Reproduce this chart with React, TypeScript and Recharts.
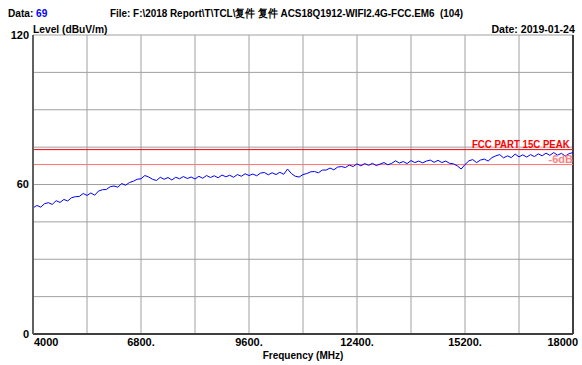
import React from 'react';
import {
  LineChart,
  Line,
  XAxis,
  YAxis,
  CartesianGrid,
  ReferenceLine,
} from 'recharts';

// sweep: 4000..18000 MHz, one reading every 100 MHz
const FREQ_START = 4000;
const FREQ_STEP = 100;
const LEVELS = [
  50.6, 51.6, 50.9, 52.3, 52.7, 52.0, 53.5, 52.8, 54.0, 53.4,
  54.7, 55.1, 55.2, 56.4, 55.6, 56.6, 55.7, 57.4, 57.9, 58.0,
  59.1, 59.4, 58.9, 60.4, 59.7, 60.8, 61.3, 62.1, 62.3, 63.6,
  63.0, 62.1, 61.6, 62.9, 62.1, 62.8, 61.8, 62.9, 62.3, 63.2,
  62.4, 63.0, 62.2, 63.3, 62.5, 63.6, 62.8, 63.5, 62.7, 63.8,
  63.1, 63.7, 62.9, 64.0, 63.3, 64.3, 63.6, 64.2, 63.5, 64.6,
  64.8, 63.9, 64.7, 64.0, 64.9, 64.1, 66.2, 64.4, 63.3, 63.0,
  64.0, 64.4, 65.1, 65.2, 64.7, 65.8, 65.8, 66.6, 65.9, 67.0,
  67.2, 66.8, 67.8, 67.2, 68.3, 67.5, 68.4, 67.7, 68.5, 67.6,
  68.2, 68.8, 67.9, 68.5, 69.5, 68.6, 69.2, 68.4, 69.6, 68.8,
  69.4, 68.7, 69.4, 69.8, 68.9, 69.7, 68.8, 69.4, 68.5, 68.3,
  67.5, 66.2, 68.0, 69.5, 70.0, 68.8, 69.8, 70.2, 69.4, 70.8,
  71.5, 72.0, 70.7, 71.5, 70.8, 72.2, 71.1, 71.9, 71.0, 72.0,
  71.2, 72.3, 71.5, 72.6, 71.7, 72.8, 71.8, 72.5, 71.4, 72.4,
  72.8,
];

const X_GRID = [4000, 5400, 6800, 8200, 9600, 11000, 12400, 13800, 15200, 16600, 18000];
const X_LABELED = [4000, 6800, 9600, 12400, 15200, 18000];
const Y_GRID = [0, 15, 30, 45, 60, 75, 90, 105, 120];
const Y_LABELED = [0, 60, 120];

const LIMIT_PEAK = 74;
const LIMIT_MARGIN = 68;

const data = LEVELS.map((level, i) => ({ freq: FREQ_START + i * FREQ_STEP, level }));

const FONT = '"Liberation Sans", Arial, sans-serif';

const XTick = (props: any) => {
  const { x, y, payload } = props;
  const v = payload.value;
  if (!X_LABELED.includes(v)) return <g />;
  const first = v === X_LABELED[0];
  const last = v === X_LABELED[X_LABELED.length - 1];
  const anchor = first ? 'start' : last ? 'end' : 'middle';
  const dx = first ? 1 : last ? 5 : 0;
  return (
    <text
      x={x + dx}
      y={y + 10}
      textAnchor={anchor}
      fontFamily={FONT}
      fontWeight="bold"
      fontSize={11}
      fill="#000"
    >
      {first || last ? String(v) : `${v}.`}
    </text>
  );
};

const txt: React.CSSProperties = {
  position: 'absolute',
  fontFamily: FONT,
  fontWeight: 'bold',
  fontSize: 11,
  whiteSpace: 'nowrap',
  lineHeight: '12px',
};

const squeeze = (k: number, origin: string): React.CSSProperties => ({
  transform: `scaleX(${k})`,
  transformOrigin: origin,
});

export default function App() {
  return (
    <div style={{ position: 'absolute', left: 0, top: 0, width: 582, height: 365, background: '#fff' }}>
      <LineChart width={582} height={365} data={data} margin={{ top: 35, right: 9, left: 0, bottom: 0 }}>
        <CartesianGrid stroke="#a0a0a0" strokeWidth={1} />
        <XAxis
          dataKey="freq"
          type="number"
          domain={[4000, 18000]}
          ticks={X_GRID}
          height={31}
          tickLine={false}
          tickSize={0}
          axisLine={{ stroke: '#404040', strokeWidth: 2 }}
          tick={<XTick />}
          interval={0}
        />
        <YAxis
          type="number"
          domain={[0, 120]}
          ticks={Y_GRID}
          width={33}
          tickLine={false}
          tickSize={0}
          tickMargin={4}
          interval={0}
          axisLine={{ stroke: '#606060', strokeWidth: 2 }}
          tickFormatter={(v: number) => (Y_LABELED.includes(v) ? String(v) : '')}
          tick={{ fontFamily: FONT, fontWeight: 'bold', fontSize: 11, fill: '#000' }}
        />
        <ReferenceLine x={18000} stroke="#404040" strokeWidth={2} />
        <ReferenceLine y={LIMIT_PEAK} stroke="#ff0000" strokeWidth={1} />
        <ReferenceLine y={LIMIT_MARGIN} stroke="#ff7070" strokeWidth={1} />
        <Line
          type="linear"
          dataKey="level"
          stroke="#0000ff"
          strokeWidth={1}
          dot={false}
          isAnimationActive={false}
        />
      </LineChart>

      <span style={{ ...txt, left: 8, top: 7, ...squeeze(0.92, 'left') }}>
        Data: <span style={{ color: '#0000ff' }}>69</span>
      </span>
      <span style={{ ...txt, left: 110, top: 7, ...squeeze(0.9, 'left') }}>
        File: F:\2018 Report\T\TCL\复件 复件 ACS18Q1912-WIFI2.4G-FCC.EM6&nbsp;&nbsp;(104)
      </span>
      <span style={{ ...txt, left: 33, top: 23, ...squeeze(0.93, 'left') }}>Level (dBuV/m)</span>
      <span style={{ ...txt, right: 7, top: 23, ...squeeze(0.96, 'right') }}>Date: 2019-01-24</span>
      <span style={{ ...txt, right: 12, top: 138, color: '#ff0000', ...squeeze(0.875, 'right') }}>
        FCC PART 15C PEAK
      </span>
      <span style={{ ...txt, right: 9, top: 153, color: '#ff8080' }}>-6dB</span>
      <span style={{ ...txt, left: 0, width: 606, top: 349, textAlign: 'center', ...squeeze(0.91, 'center') }}>
        Frequency (MHz)
      </span>
    </div>
  );
}
